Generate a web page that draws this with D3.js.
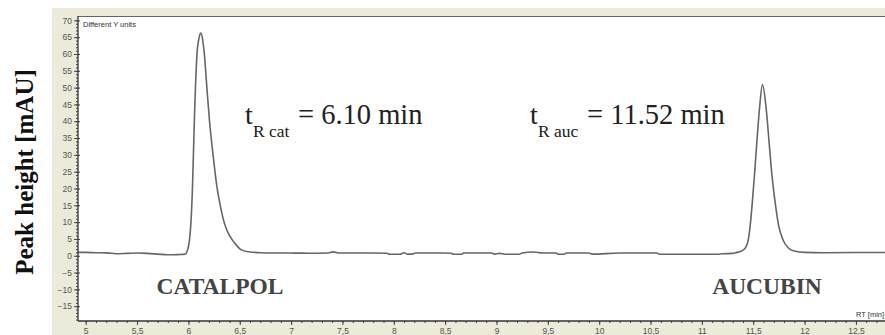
<!DOCTYPE html>
<html>
<head>
<meta charset="utf-8">
<script src="https://cdn.jsdelivr.net/npm/d3@7"></script>
<style>
  body { margin: 0; background: #fff; }
  svg { display: block; }
</style>
</head>
<body>
<svg id="chrom"></svg>
<script>
// Chromatogram: catalpol / aucubin
// retention time (min) and signal (mAU)
const rt = [4.925, 5.0, 5.1, 5.2, 5.3, 5.4, 5.5, 5.6, 5.7, 5.8, 5.9, 5.95, 5.975, 5.99, 6.01, 6.025, 6.04, 6.058, 6.084, 6.105, 6.122,
  6.14, 6.155, 6.18, 6.205, 6.24, 6.278, 6.31, 6.342, 6.375, 6.407, 6.46, 6.515, 6.6, 6.7, 6.8, 7.0, 7.2, 7.35, 7.41, 7.47,
  7.6, 7.8, 7.93, 7.96, 8.06, 8.1, 8.13, 8.18, 8.21, 8.5, 8.56, 8.58, 8.66, 8.68, 8.95, 8.98, 9.03, 9.08, 9.22, 9.25,
  9.36, 9.45, 9.58, 9.6, 9.66, 9.68, 9.9, 9.93, 10.2, 10.56, 10.59, 11.15, 11.2, 11.3, 11.34, 11.38, 11.422, 11.45,
  11.471, 11.49, 11.512, 11.537, 11.561, 11.59, 11.626, 11.655, 11.682, 11.715, 11.746, 11.79, 11.843, 11.9, 12.0,
  12.18, 12.5, 12.783];
const mau = [1.0, 1.0, 0.9, 0.85, 0.6, 0.7, 0.8, 0.7, 0.5, 0.3, 0.35, 0.4, 0.6, 1.6, 4.5, 10, 20.5, 40.3, 60.1, 65, 66.2,
  64, 60.1, 50, 40.3, 30, 20.5, 15, 10.6, 7.6, 5.7, 3.4, 1.75, 1.1, 0.9, 0.8, 0.8, 0.75, 0.8, 1.15, 0.8,
  0.8, 0.8, 0.75, 0.45, 0.45, 0.9, 0.5, 0.5, 0.8, 0.8, 0.75, 0.45, 0.45, 0.8, 0.8, 0.5, 0.7, 0.45, 0.45, 0.8,
  1.1, 0.8, 0.8, 0.45, 0.45, 0.8, 0.8, 0.5, 0.8, 0.8, 0.47, 0.47, 0.6, 0.7, 1.0, 1.3, 2.26, 4.5,
  9.2, 15.5, 24, 34.5, 43.8, 50.9, 43.8, 33.5, 24, 15.5, 9.2, 4.7, 2.3, 1.4, 1.0,
  0.9, 0.95, 0.95];

const xTicks = d3.range(5, 12.51, 0.5);
const yTicks = d3.range(-15, 70.1, 5);

const peakNames = ["CATALPOL", "AUCUBIN"];
const peakSubs = ["R cat", "R auc"];
const peakTimes = ["= 6.10 min", "= 11.52 min"];

const W = 885, H = 335;
const svg = d3.select("#chrom").attr("width", W).attr("height", H)
  .attr("viewBox", [0, 0, W, H]);

const plotL = 78, plotT = 16, plotR = 885, plotB = 321;
const sans = "'Liberation Sans', Arial, sans-serif";
const serif = "'Liberation Serif', 'Times New Roman', serif";

const x = d3.scaleLinear().domain([4.925, 12.783]).range([plotL, plotR]);
const y = d3.scaleLinear().domain([-19.4, 71.3]).range([plotB, plotT]);

// beige panel behind the plot
svg.append("rect")
  .attr("x", 52).attr("y", 8).attr("width", W - 52).attr("height", H - 8)
  .attr("fill", "#ecead9");

svg.append("rect")
  .attr("x", plotL).attr("y", plotT).attr("width", plotR - plotL).attr("height", plotB - plotT)
  .attr("fill", "#fff");

svg.append("line")
  .attr("x1", plotL).attr("x2", plotR).attr("y1", plotT + 0.5).attr("y2", plotT + 0.5)
  .attr("stroke", "#666").attr("stroke-width", 1.2);

svg.append("defs").append("clipPath").attr("id", "clip")
  .append("rect").attr("x", plotL).attr("y", plotT).attr("width", plotR - plotL).attr("height", plotB - plotT);

// trace
const pts = rt.map((t, i) => [t, mau[i]]);
const line = d3.line().x(d => x(d[0])).y(d => y(d[1])).curve(d3.curveMonotoneX);

svg.append("path")
  .datum(pts)
  .attr("clip-path", "url(#clip)")
  .attr("fill", "none")
  .attr("stroke", "#666")
  .attr("stroke-width", 1.6)
  .attr("stroke-linejoin", "round")
  .attr("d", line);

// x axis
const comma = d => String(d).replace(".", ",");
svg.append("g").attr("transform", `translate(0,${plotB})`)
  .call(d3.axisBottom(x).tickValues(d3.range(5, 12.75, 0.1)).tickSize(2).tickFormat(""))
  .call(g => g.select(".domain").remove());
svg.append("g").attr("transform", `translate(0,${plotB})`)
  .call(d3.axisBottom(x).tickValues(xTicks).tickSize(4).tickPadding(2.5).tickFormat(comma))
  .call(g => g.select(".domain").remove())
  .call(g => g.selectAll("text").attr("font-family", sans)
    .attr("font-size", 8.5).attr("fill", "#555"));
svg.selectAll(".tick line").attr("stroke", "#444");
svg.append("line")
  .attr("x1", plotL).attr("x2", plotR).attr("y1", plotB).attr("y2", plotB)
  .attr("stroke", "#333").attr("stroke-width", 1.3);

// y axis
svg.append("g").attr("transform", `translate(${plotL},0)`)
  .call(d3.axisLeft(y).tickValues(d3.range(-19, 71, 1)).tickSize(2).tickFormat(""))
  .call(g => g.select(".domain").remove())
  .call(g => g.selectAll("line").attr("stroke", "#444"));
svg.append("g").attr("transform", `translate(${plotL},0)`)
  .call(d3.axisLeft(y).tickValues(yTicks).tickSize(4).tickPadding(2))
  .call(g => g.select(".domain").remove())
  .call(g => g.selectAll("line").attr("stroke", "#444").attr("x2", 2).attr("x1", -4))
  .call(g => g.selectAll("text").attr("font-family", sans)
    .attr("font-size", 8.5).attr("fill", "#555"));
svg.append("line")
  .attr("x1", plotL).attr("x2", plotL).attr("y1", plotT).attr("y2", plotB)
  .attr("stroke", "#333").attr("stroke-width", 1.3);

// small labels
svg.append("text").attr("x", 83).attr("y", 27)
  .attr("font-family", sans).attr("font-size", 7.5).attr("fill", "#333")
  .text("Different Y units");
svg.append("text").attr("x", 856).attr("y", 317)
  .attr("font-family", sans).attr("font-size", 7.5).attr("fill", "#333")
  .text("RT [min]");

// y title
svg.append("text")
  .attr("transform", "translate(33,172) rotate(-90)")
  .attr("text-anchor", "middle")
  .attr("font-family", serif)
  .attr("font-weight", "bold").attr("font-size", 25).attr("fill", "#111")
  .text("Peak height [mAU]");

// peak names
const nameX = [220, 767];
svg.selectAll(".pname").data(peakNames).enter().append("text")
  .attr("class", "pname")
  .attr("x", (d, i) => nameX[i]).attr("y", 294)
  .attr("text-anchor", "middle")
  .attr("font-family", serif).attr("font-weight", "bold").attr("font-size", 23.5).attr("fill", "#444")
  .text(d => d);

// retention time annotations
const tX = [245, 530], subX = [253, 538], eqX = [298, 587];
peakTimes.forEach((txt, i) => {
  const g = svg.append("g").attr("font-family", serif).attr("fill", "#222");
  g.append("text").attr("x", tX[i]).attr("y", 123.5).attr("font-size", 28).text("t");
  g.append("text").attr("x", subX[i]).attr("y", 136.5).attr("font-size", 17.5).text(peakSubs[i]);
  g.append("text").attr("x", eqX[i]).attr("y", 123.5).attr("font-size", 28.5).text(txt);
});
</script>
</body>
</html>
